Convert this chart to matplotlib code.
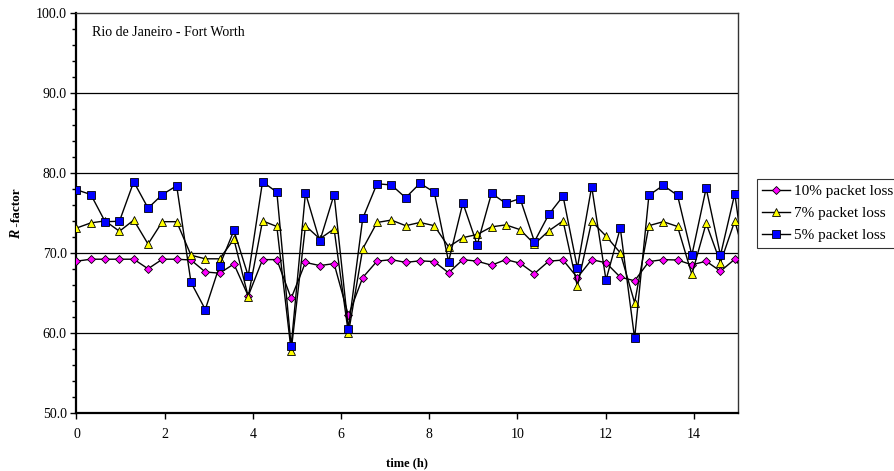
import numpy as np
import matplotlib
matplotlib.use('Agg')
import matplotlib.pyplot as plt
from matplotlib.ticker import MultipleLocator, FormatStrFormatter

# dados (R-factor), uma amostra a cada ~0.3245 h
step_h = 0.3245

loss10 = [68.95, 69.2, 69.2, 69.2, 69.2, 68.0, 69.2, 69.2, 69.1, 67.6,
          67.45, 68.6, 64.6, 69.15, 69.15, 64.3, 68.8, 68.4, 68.65, 62.15,
          66.9, 68.95, 69.15, 68.8, 69.0, 68.9, 67.5, 69.15, 68.95, 68.45,
          69.15, 68.7, 67.4, 68.95, 69.1, 66.9, 69.15, 68.75, 66.95, 66.5,
          68.9, 69.15, 69.1, 68.5, 68.95, 67.7, 69.2, 67.0]

loss7 = [73.1, 73.75, 74.0, 72.7, 74.1, 71.1, 73.9, 73.9, 69.7, 69.25,
         69.25, 71.7, 64.5, 74.0, 73.3, 57.7, 73.4, 71.75, 73.0, 59.9,
         70.5, 73.8, 74.1, 73.4, 73.8, 73.4, 70.75, 71.9, 72.3, 73.25,
         73.5, 72.9, 71.1, 72.75, 74.0, 65.8, 73.95, 72.1, 70.0, 63.75,
         73.4, 73.9, 73.3, 67.3, 73.7, 68.75, 74.0, 67.5]

loss5 = [77.9, 77.3, 73.9, 73.95, 78.9, 75.6, 77.3, 78.4, 66.3, 62.9,
         68.4, 72.8, 67.1, 78.9, 77.6, 58.3, 77.5, 71.45, 77.3, 60.5,
         74.3, 78.65, 78.5, 76.9, 78.7, 77.6, 68.9, 76.25, 71.0, 77.45,
         76.2, 76.8, 71.4, 74.8, 77.1, 68.1, 78.3, 66.6, 73.1, 59.3,
         77.2, 78.45, 77.2, 69.7, 78.1, 69.7, 77.4, 64.5]

tempo = np.arange(len(loss5)) * step_h

plt.rcParams['font.family'] = 'Liberation Serif'
plt.rcParams['font.size'] = 10

fig = plt.figure(figsize=(8.95, 4.71), dpi=100)
ax = fig.add_axes([76.5 / 895, 1 - 412.5 / 471, (738 - 76.5) / 895, (412.5 - 13.3) / 471])

# grade horizontal
for y in [60, 70, 80, 90]:
    ax.axhline(y, color='black', linewidth=0.9, zorder=1)

ax.plot(tempo, loss10, color='black', linewidth=1.0, marker='D', markersize=4.4,
        markerfacecolor='#FF00FF', markeredgecolor='black', markeredgewidth=0.6,
        label='10% packet loss', zorder=3)
ax.plot(tempo, loss7, color='black', linewidth=1.0, marker='^', markersize=6.0,
        markerfacecolor='#FFFF00', markeredgecolor='black', markeredgewidth=0.6,
        label='7% packet loss', zorder=4)
ax.plot(tempo, loss5, color='black', linewidth=1.0, marker='s', markersize=5.3,
        markerfacecolor='#0000FF', markeredgecolor='black', markeredgewidth=0.6,
        label='5% packet loss', zorder=5)

ax.set_xlim(0, 15)
ax.set_ylim(50, 100)
ax.xaxis.set_major_locator(MultipleLocator(2))
ax.yaxis.set_major_locator(MultipleLocator(10))
ax.yaxis.set_minor_locator(MultipleLocator(2))
ax.yaxis.set_major_formatter(FormatStrFormatter('%.1f'))
ax.tick_params(axis='both', which='major', direction='out', length=4, width=1,
               labelsize=10, pad=3)
ax.tick_params(axis='y', which='minor', direction='out', length=3, width=1)
ax.tick_params(axis='x', pad=7)

for s in ['left', 'bottom']:
    ax.spines[s].set_linewidth(1.6)
    ax.spines[s].set_color('black')
for s in ['top', 'right']:
    ax.spines[s].set_linewidth(1.0)
    ax.spines[s].set_color('#333333')

ax.set_xlabel('time (h)', fontweight='bold', fontsize=9, labelpad=12)

# rótulo do eixo y: R em itálico + "-factor"
fig.text(0.019, 1 - 230 / 471, 'R', fontweight='bold', fontstyle='italic', fontsize=10,
         rotation=90, ha='center', va='top')
fig.text(0.019, 1 - 230 / 471, ' -factor', fontweight='bold', fontsize=9.5,
         rotation=90, ha='center', va='bottom')

ax.text(0.023, 0.967, 'Rio de Janeiro - Fort Worth', transform=ax.transAxes,
        fontsize=10, ha='left', va='top')

leg = fig.legend(loc='upper left', bbox_to_anchor=(757 / 895, 1 - 179 / 471),
                 fontsize=11, frameon=True, fancybox=False, borderpad=0.35,
                 handlelength=1.8, handletextpad=0.25, labelspacing=0.55,
                 borderaxespad=0)
leg.get_frame().set_edgecolor('black')
leg.get_frame().set_linewidth(0.8)

fig.savefig('out.png', dpi=100)
